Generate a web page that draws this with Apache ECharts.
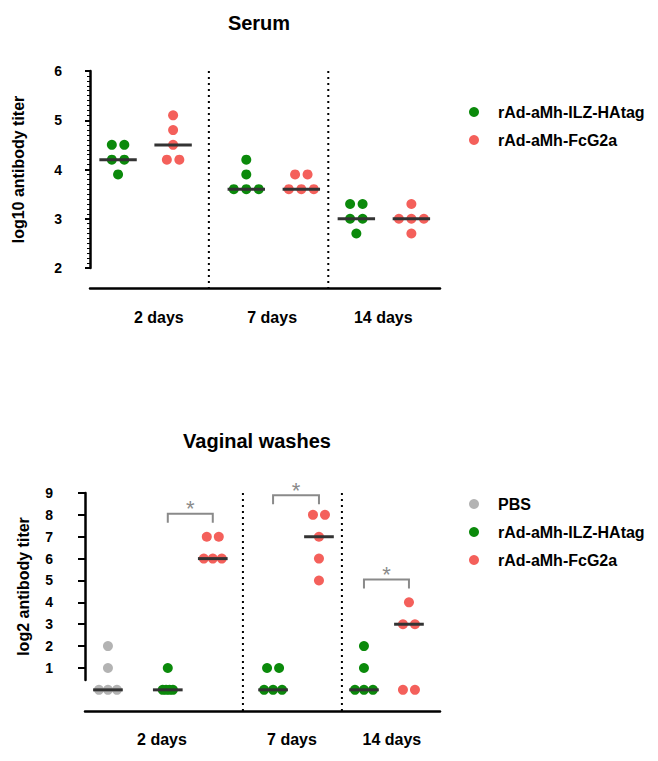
<!DOCTYPE html>
<html><head><meta charset="utf-8">
<script src="https://cdn.jsdelivr.net/npm/echarts@6/dist/echarts.min.js"></script>
<style>html,body{margin:0;padding:0;background:#fff}#c{width:658px;height:761px}</style>
</head><body><div id="c"></div>
<script>
// ---------- DATA ----------
const days = ['2 days', '7 days', '14 days'];
const nameP = 'PBS';
const nameI = 'rAd-aMh-ILZ-HAtag';
const nameF = 'rAd-aMh-FcG2a';
// Serum, log10 antibody titer (per day: 5 animals)
const serumILZ = [[4.5, 4.5, 4.2, 4.2, 3.9], [4.2, 3.9, 3.6, 3.6, 3.6], [3.3, 3.3, 3.0, 3.0, 2.7]];
const serumFc  = [[5.1, 4.8, 4.5, 4.2, 4.2], [3.9, 3.9, 3.6, 3.6, 3.6], [3.3, 3.0, 3.0, 3.0, 2.7]];
// Vaginal washes, log2 antibody titer
const vagPBS = [[2, 1, 0, 0, 0]];
const vagILZ = [[1, 0, 0, 0, 0], [1, 1, 0, 0, 0], [2, 1, 0, 0, 0]];
const vagFc  = [[7, 7, 6, 6, 6], [8, 8, 7, 6, 5], [4, 3, 3, 0, 0]];
const serumTicks = [2, 3, 4, 5, 6];
const vagTicks = [1, 2, 3, 4, 5, 6, 7, 8, 9];
const sigLabel = '*';

// ---------- LAYOUT ----------
const FONT = '"Liberation Sans", Arial, Helvetica, sans-serif';
const GREEN = '#0b8a0b', RED = '#f4605b', GRAY = '#b3b3b3';
const LT = { posI: [0.51, 2.84, 4.84], posF: [1.51, 3.84, 5.84], labels: [1.25, 3.31, 5.33], dividers: [2.16, 4.33], xmax: 6.36, hw: 0.34 };
const LB = { posP: [0.51], posI: [1.84, 4.18, 6.2], posF: [2.84, 5.2, 7.2], labels: [1.71, 4.6, 6.82], dividers: [3.51, 5.71], xmax: 7.89, hw: 0.33 };
const bracketTop = [8.05, 8.9, 5.05];

function median(a) { const s = a.slice().sort((x, y) => x - y); const m = Math.floor(s.length / 2); return s.length % 2 ? s[m] : (s[m - 1] + s[m]) / 2; }
function swarm(vals, cx, spacing) {
  const groups = {};
  vals.forEach(v => { (groups[v] = groups[v] || []).push(v); });
  const out = [];
  Object.keys(groups).forEach(k => {
    const g = groups[k], n = g.length, d = spacing(n);
    g.forEach((v, i) => out.push([cx + (i - (n - 1) / 2) * d, v]));
  });
  return out;
}
const topSp = n => 0.227;
const botSp = n => n >= 4 ? 0.076 : (n === 3 ? 0.2 : 0.267);

function pts(groups, pos, sp) { let o = []; groups.forEach((g, i) => { o = o.concat(swarm(g, pos[i], sp)); }); return o; }
function meds(groups, pos) { return groups.map((g, i) => [pos[i], median(g)]); }

function scatter(name, color, data, gi) {
  return { type: 'scatter', name, xAxisIndex: gi, yAxisIndex: gi, data, symbolSize: 10, clip: false,
    itemStyle: { color, opacity: 1 }, z: 3, silent: true };
}
function medianSeries(data, gi, hw) {
  return { type: 'custom', xAxisIndex: gi, yAxisIndex: gi, data, z: 6, clip: false, silent: true,
    renderItem: (p, api) => {
      const a = api.coord([api.value(0) - hw, api.value(1)]);
      const b = api.coord([api.value(0) + hw, api.value(1)]);
      return { type: 'line', shape: { x1: a[0], y1: a[1], x2: b[0], y2: b[1] }, style: { stroke: '#333', lineWidth: 3 } };
    } };
}
function dividerSeries(xs, gi, offset) {
  return { type: 'custom', xAxisIndex: gi, yAxisIndex: gi, data: xs.map(x => [x]), z: 1, clip: false, silent: true,
    encode: { x: 0 },
    renderItem: (p, api) => {
      const cs = p.coordSys;
      const x = api.coord([api.value(0), 0])[0];
      return { type: 'line', shape: { x1: x, y1: cs.y, x2: x, y2: cs.y + cs.height + offset },
        style: { stroke: '#000', lineWidth: 2, lineDash: [2, 4] } };
    } };
}
function bracketSeries(gi) {
  const data = days.map((d, i) => [LB.posI[i], LB.posF[i], bracketTop[i]]);
  return { type: 'custom', xAxisIndex: gi, yAxisIndex: gi, data, z: 4, clip: false, silent: true,
    encode: { x: [0, 1], y: 2 },
    renderItem: (p, api) => {
      const a = api.coord([api.value(0), api.value(2)]);
      const b = api.coord([api.value(1), api.value(2)]);
      const leg = 9;
      return { type: 'group', children: [
        { type: 'polyline', shape: { points: [[a[0], a[1] + leg], [a[0], a[1]], [b[0], b[1]], [b[0], b[1] + leg]] },
          style: { stroke: '#8a8a8a', lineWidth: 2, fill: null } },
        { type: 'text', style: { text: sigLabel, x: (a[0] + b[0]) / 2, y: a[1] - 5, align: 'center', verticalAlign: 'middle',
          fill: '#8a8a8a', font: '22px ' + FONT } }
      ] };
    } };
}

const axisLbl = { color: '#000', fontSize: 14, fontWeight: 'bold', fontFamily: FONT };
const chart = echarts.init(document.getElementById('c'), null, { renderer: 'svg' });
chart.setOption({
  animation: false,
  backgroundColor: '#fff',
  textStyle: { fontFamily: FONT },
  title: [
    { text: 'Serum', left: 254, top: 8, textAlign: 'center', textStyle: { fontSize: 20, fontWeight: 'bold', color: '#000', fontFamily: FONT } },
    { text: 'Vaginal washes', left: 252, top: 426, textAlign: 'center', textStyle: { fontSize: 20, fontWeight: 'bold', color: '#000', fontFamily: FONT } }
  ],
  legend: [
    { data: [nameI, nameF], orient: 'vertical', left: 464, top: 99, itemWidth: 10, itemHeight: 10, itemGap: 12, icon: 'circle',
      selectedMode: false, textStyle: { fontSize: 16, fontWeight: 'bold', color: '#000', fontFamily: FONT, padding: [0, 0, 0, 14] } },
    { data: [nameP, nameI, nameF], orient: 'vertical', left: 464, top: 491, itemWidth: 10, itemHeight: 10, itemGap: 12, icon: 'circle',
      selectedMode: false, textStyle: { fontSize: 16, fontWeight: 'bold', color: '#000', fontFamily: FONT, padding: [0, 0, 0, 14] } }
  ],
  grid: [
    { left: 90, top: 71, width: 350, height: 197 },
    { left: 85, top: 493, width: 355, height: 187 }
  ],
  xAxis: [
    { gridIndex: 0, type: 'value', min: 0, max: LT.xmax, offset: 20,
      axisLine: { show: true, lineStyle: { color: '#000', width: 2.5 } }, axisTick: { show: false }, splitLine: { show: false },
      axisLabel: { customValues: LT.labels, formatter: v => days[LT.labels.indexOf(v)], margin: 21, color: '#000', fontSize: 16, fontWeight: 'bold', fontFamily: FONT } },
    { gridIndex: 1, type: 'value', min: 0, max: LB.xmax, offset: 31,
      axisLine: { show: true, lineStyle: { color: '#000', width: 2.5 } }, axisTick: { show: false }, splitLine: { show: false },
      axisLabel: { customValues: LB.labels, formatter: v => days[LB.labels.indexOf(v)], margin: 20, color: '#000', fontSize: 16, fontWeight: 'bold', fontFamily: FONT } }
  ],
  yAxis: [
    { gridIndex: 0, type: 'value', min: serumTicks[0], max: serumTicks[serumTicks.length - 1], interval: 1, offset: 20,
      name: 'log10 antibody titer', nameLocation: 'middle', nameGap: 44,
      nameTextStyle: { fontSize: 16, fontWeight: 'bold', color: '#000', fontFamily: FONT },
      axisLine: { show: true, lineStyle: { color: '#000', width: 2.5 } },
      axisTick: { show: true, length: 5, lineStyle: { color: '#000', width: 2 } },
      minorTick: { show: true, splitNumber: 10, length: 3, lineStyle: { color: '#000', width: 1 } },
      splitLine: { show: false }, axisLabel: Object.assign({ margin: 8 }, axisLbl) },
    { gridIndex: 1, type: 'value', min: 0.45, max: vagTicks[vagTicks.length - 1], offset: 21,
      name: 'log2 antibody titer', nameLocation: 'middle', nameGap: 33,
      nameTextStyle: { fontSize: 16, fontWeight: 'bold', color: '#000', fontFamily: FONT },
      axisLine: { show: true, lineStyle: { color: '#000', width: 2.5 } },
      axisTick: { show: true, length: 7, customValues: vagTicks, lineStyle: { color: '#000', width: 2 } },
      splitLine: { show: false }, axisLabel: Object.assign({ margin: 11, customValues: vagTicks }, axisLbl) }
  ],
  series: [
    dividerSeries(LT.dividers, 0, 20),
    dividerSeries(LB.dividers, 1, 31),
    scatter(nameI, GREEN, pts(serumILZ, LT.posI, topSp), 0),
    scatter(nameF, RED, pts(serumFc, LT.posF, topSp), 0),
    medianSeries(meds(serumILZ, LT.posI).concat(meds(serumFc, LT.posF)), 0, LT.hw),
    scatter(nameP, GRAY, pts(vagPBS, LB.posP, botSp), 1),
    scatter(nameI, GREEN, pts(vagILZ, LB.posI, botSp), 1),
    scatter(nameF, RED, pts(vagFc, LB.posF, botSp), 1),
    medianSeries(meds(vagPBS, LB.posP).concat(meds(vagILZ, LB.posI), meds(vagFc, LB.posF)), 1, LB.hw),
    bracketSeries(1)
  ]
});
</script>
</body></html>
